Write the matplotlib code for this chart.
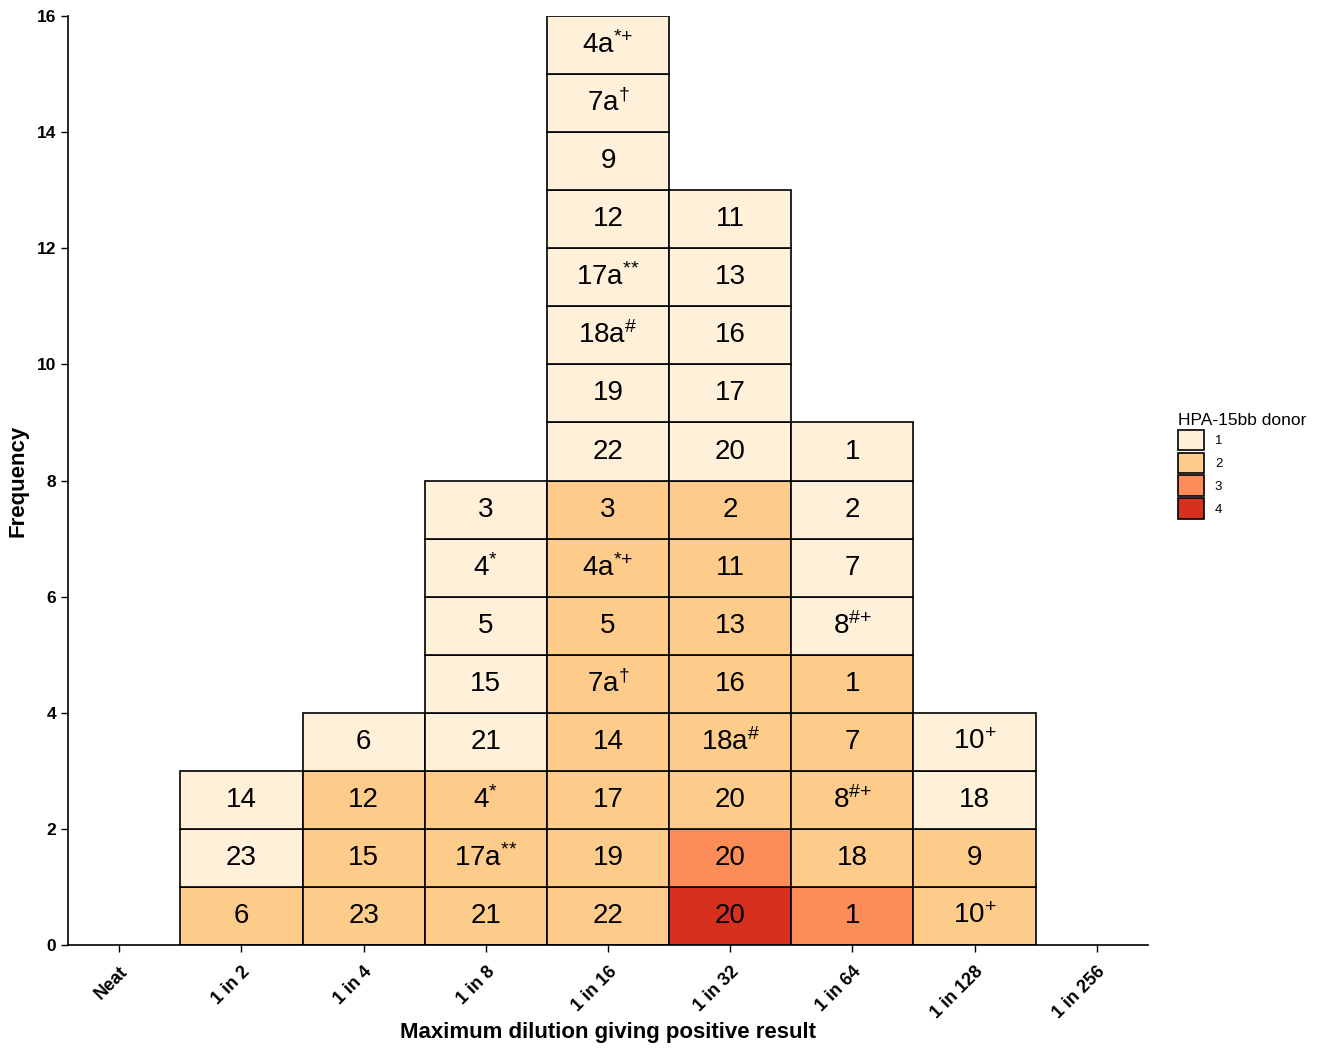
import re
import matplotlib
matplotlib.use("Agg")
import matplotlib.pyplot as plt
from matplotlib.patches import Patch

plt.rcParams['font.family'] = ['Liberation Sans', 'DejaVu Sans']
plt.rcParams['mathtext.fontset'] = 'custom'
plt.rcParams['mathtext.rm'] = 'Liberation Sans'
plt.rcParams['mathtext.it'] = 'Liberation Sans:italic'
plt.rcParams['mathtext.bf'] = 'Liberation Sans:bold'

categories = ["Neat", "1 in 2", "1 in 4", "1 in 8", "1 in 16",
              "1 in 32", "1 in 64", "1 in 128", "1 in 256"]

# one list per dilution, stacked from the bottom up
samples = [
    [],
    ["6", "23", "14"],
    ["23", "15", "12", "6"],
    ["21", "17a**", "4*", "21", "15", "5", "4*", "3"],
    ["22", "19", "17", "14", "7a†", "5", "4a*+", "3",
     "22", "19", "18a#", "17a**", "12", "9", "7a†", "4a*+"],
    ["20", "20", "20", "18a#", "16", "13", "11", "2",
     "20", "17", "16", "13", "11"],
    ["1", "18", "8#+", "7", "1", "8#+", "7", "2", "1"],
    ["10+", "9", "18", "10+"],
    [],
]
donors = [
    [],
    [2, 1, 1],
    [2, 2, 2, 1],
    [2, 2, 2, 1, 1, 1, 1, 1],
    [2, 2, 2, 2, 2, 2, 2, 2, 1, 1, 1, 1, 1, 1, 1, 1],
    [4, 3, 2, 2, 2, 2, 2, 2, 1, 1, 1, 1, 1],
    [3, 2, 2, 2, 2, 1, 1, 1, 1],
    [2, 2, 1, 1],
    [],
]

donor_levels = [1, 2, 3, 4]
donor_colours = {1: "#FEF0D9", 2: "#FDCC8A", 3: "#FC8D59", 4: "#D7301F"}


def fmt(lab):
    m = re.match(r"^(\d+a?)(.*)$", lab)
    base, sup = m.group(1), m.group(2)
    if not sup:
        return base
    sup = sup.replace("#", r"\#").replace("*", r"{*}").replace("+", r"{+}")
    return base + r"$^{" + sup + "}$"


fig = plt.figure(figsize=(13.28, 10.49), dpi=100)
ax = fig.add_axes([0.0512, 0.0991, 0.8133, 0.8856])

for i, (labs, dons) in enumerate(zip(samples, donors)):
    for j, (lab, d) in enumerate(zip(labs, dons)):
        ax.bar(i, 1, bottom=j, width=1, color=donor_colours[d],
               edgecolor="black", linewidth=1.2, zorder=2)
        ax.text(i, j + 0.5, fmt(lab), ha="center", va="center",
                fontsize=20, zorder=3)

ax.set_xlim(-0.42, len(categories) - 1 + 0.42)
ax.set_ylim(0, 16)
ax.set_xticks(range(len(categories)))
ax.set_xticklabels(categories, rotation=45, ha="right", va="top",
                   rotation_mode="anchor", fontweight="bold", fontsize=13)
ax.set_yticks(range(0, 17, 2))
ax.set_yticklabels([str(v) for v in range(0, 17, 2)],
                   fontweight="bold", fontsize=12.5)
ax.tick_params(length=5, width=1)
ax.tick_params(axis="x", pad=8)
for s in ["top", "right"]:
    ax.spines[s].set_visible(False)
for s in ["left", "bottom"]:
    ax.spines[s].set_linewidth(1.2)

ax.set_xlabel("Maximum dilution giving positive result",
              fontweight="bold", fontsize=16)
ax.xaxis.set_label_coords(0.5, -0.083)
ax.set_ylabel("Frequency", fontweight="bold", fontsize=16, labelpad=6)

handles = [Patch(facecolor=donor_colours[d], edgecolor="black", linewidth=1.2)
           for d in donor_levels]
leg = fig.legend(handles, [str(d) for d in donor_levels],
                 title="HPA-15bb donor", loc="upper left",
                 bbox_to_anchor=(0.882, 0.613), frameon=False,
                 fontsize=9.5, title_fontsize=12.5,
                 handlelength=2.0, handleheight=2.0, handletextpad=0.8,
                 labelspacing=0.18, borderpad=0)
leg._legend_box.align = "left"

fig.savefig("out.png", dpi=100)
